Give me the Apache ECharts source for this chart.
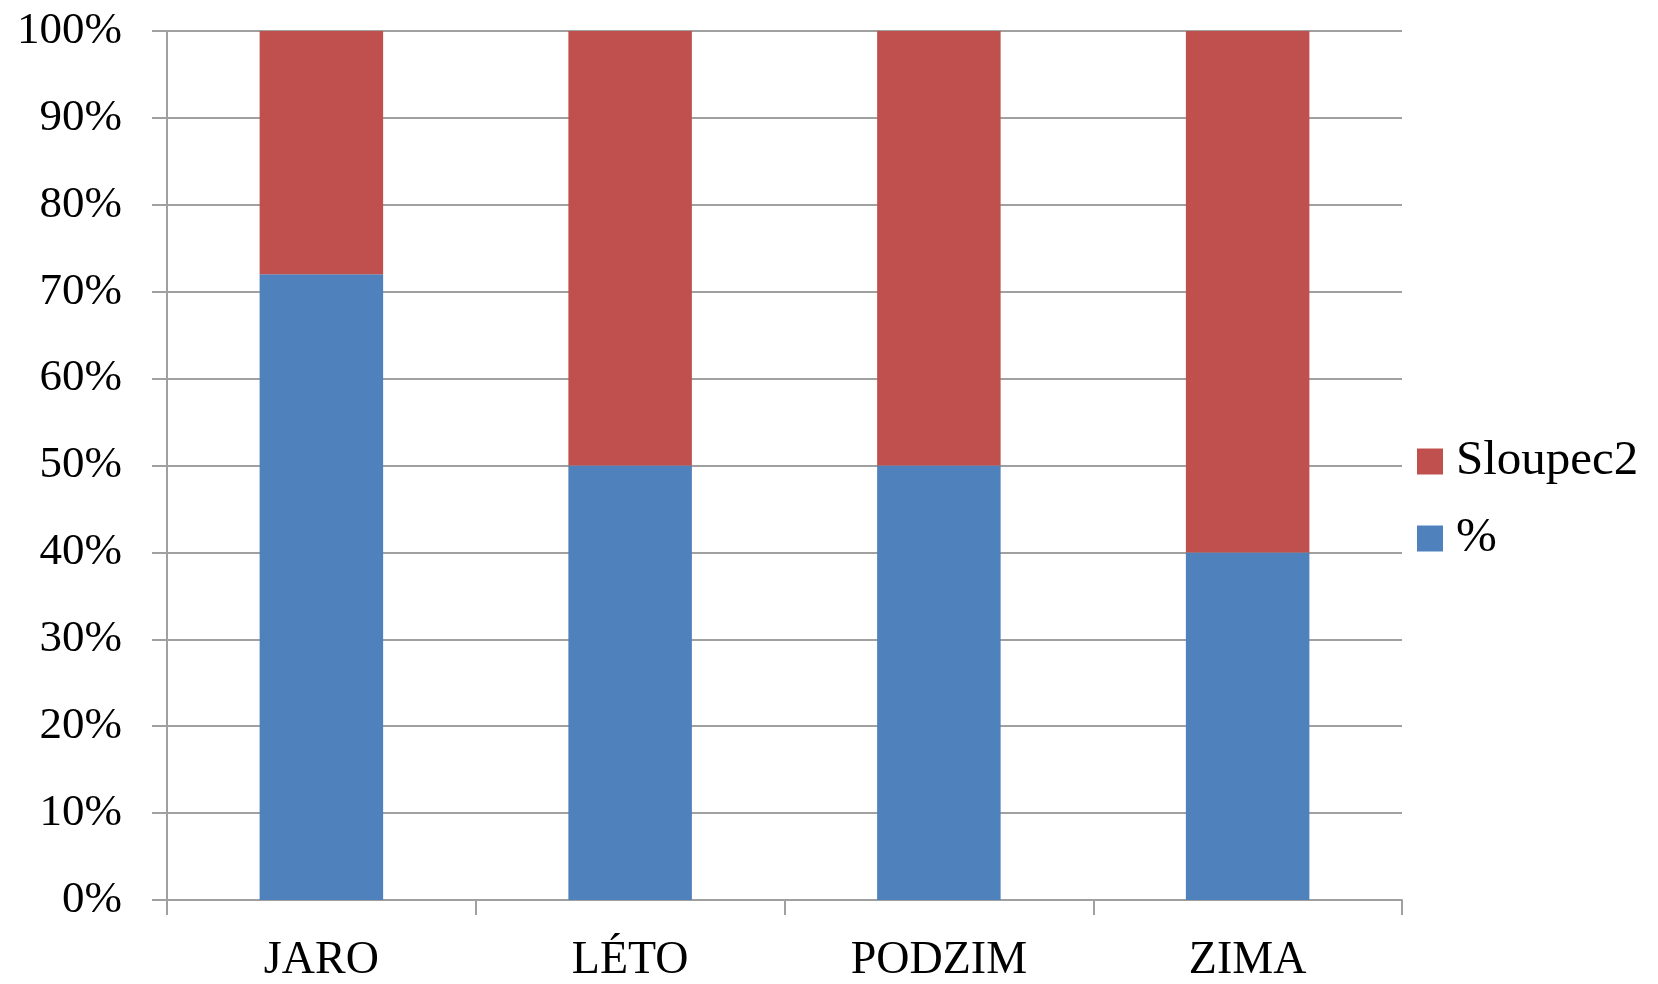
<!DOCTYPE html>
<html>
<head>
<meta charset="utf-8">
<script src="https://cdn.jsdelivr.net/npm/echarts@6/dist/echarts.min.js"></script>
<style>html,body{margin:0;padding:0;background:#fff;}#c{width:1658px;height:984px;}</style>
</head>
<body>
<div id="c"></div>
<script>
var categories = ['JARO', 'LÉTO', 'PODZIM', 'ZIMA'];
var pctValues = [72, 50, 50, 40];
var sloupec2Values = [28, 50, 50, 60];
var seriesNames = ['%', 'Sloupec2'];
var yTicks = [0, 10, 20, 30, 40, 50, 60, 70, 80, 90, 100];

var FONT = '"Liberation Serif", "DejaVu Serif", serif';
var chart = echarts.init(document.getElementById('c'), null, {renderer: 'canvas'});
chart.setOption({
  animation: false,
  backgroundColor: '#ffffff',
  grid: {left: 167, top: 31, width: 1235, height: 869, containLabel: false},
  legend: {
    orient: 'vertical',
    left: 1412,
    top: 432,
    data: [seriesNames[1], seriesNames[0]],
    itemWidth: 26,
    itemHeight: 26,
    itemGap: 28,
    icon: 'rect',
    textStyle: {fontFamily: FONT, fontSize: 49, color: '#000', lineHeight: 46, padding: [0, 0, 0, 8]}
  },
  xAxis: {
    type: 'category',
    data: categories,
    axisLine: {lineStyle: {color: '#a0a0a0', width: 2}},
    axisTick: {show: true, length: 15, lineStyle: {color: '#a0a0a0', width: 2}},
    axisLabel: {fontFamily: FONT, fontSize: 46, color: '#000', margin: 38}
  },
  yAxis: {
    type: 'value',
    min: 0, max: 100, interval: 10,
    axisLine: {show: true, lineStyle: {color: '#a0a0a0', width: 2}},
    axisTick: {show: true, length: 15, lineStyle: {color: '#a0a0a0', width: 2}},
    splitLine: {lineStyle: {color: '#a0a0a0', width: 2}},
    axisLabel: {
      fontFamily: FONT, fontSize: 45, color: '#000', margin: 45,
      formatter: function (v) { return yTicks.indexOf(v) >= 0 ? v + '%' : ''; }
    }
  },
  series: [
    {name: seriesNames[0], type: 'bar', stack: 's', data: pctValues,
     itemStyle: {color: '#4F81BD'}, barCategoryGap: '60%'},
    {name: seriesNames[1], type: 'bar', stack: 's', data: sloupec2Values,
     itemStyle: {color: '#C0504D'}, barCategoryGap: '60%'}
  ]
});
</script>
</body>
</html>
